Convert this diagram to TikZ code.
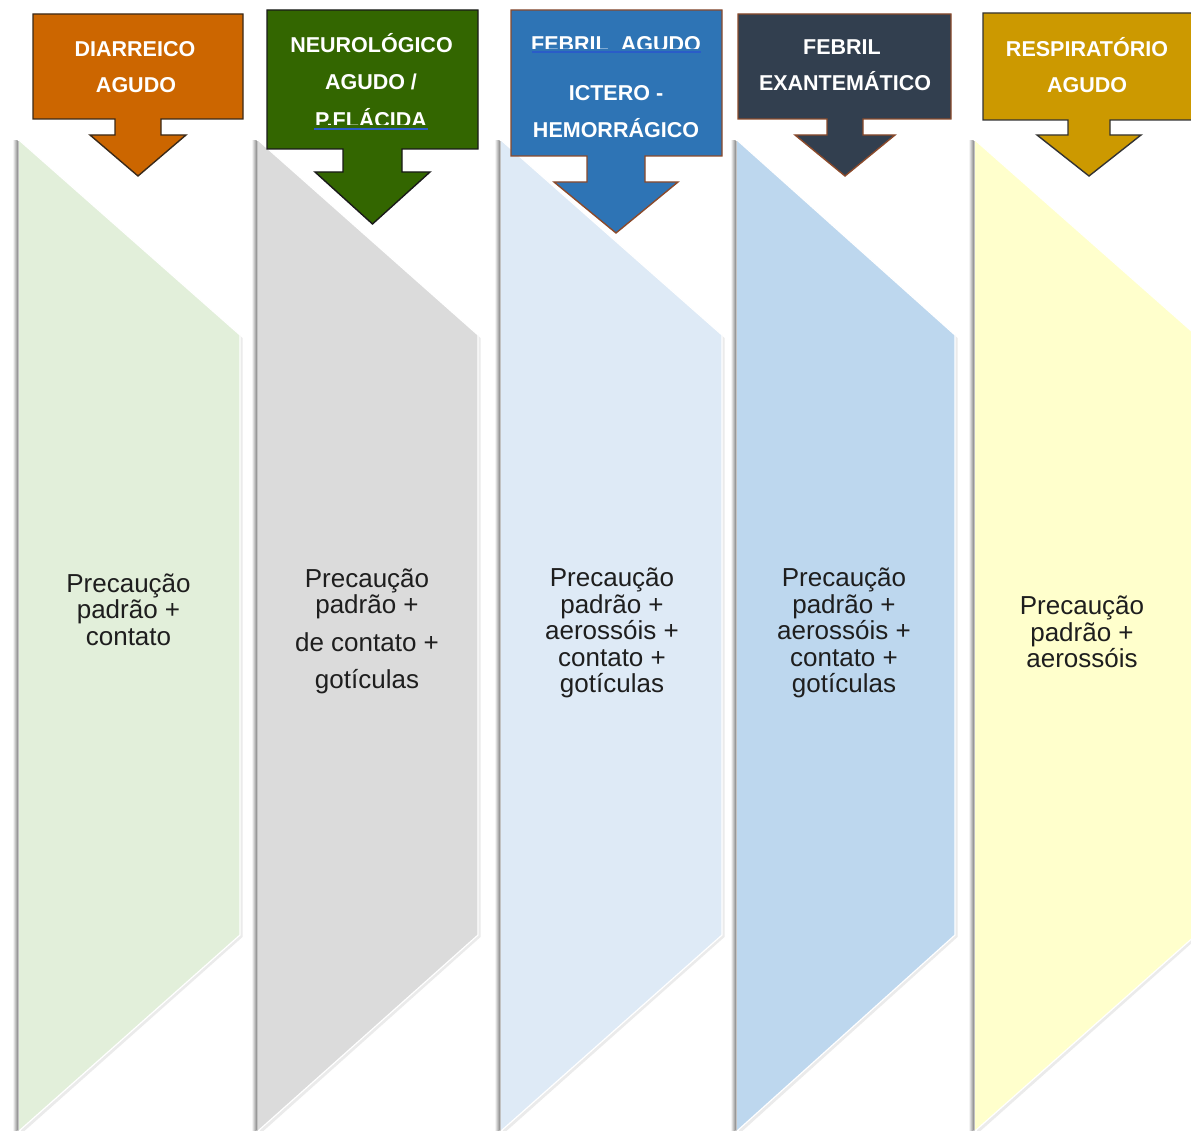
\documentclass[tikz,border=0pt]{standalone}
\usepackage{fontspec}
\setmainfont{Liberation Sans}
\definecolor{colA}{HTML}{E2EFDA}
\definecolor{colB}{HTML}{DBDBDB}
\definecolor{colC}{HTML}{DEEAF6}
\definecolor{colD}{HTML}{BDD7EE}
\definecolor{colE}{HTML}{FFFFCC}
\definecolor{hA}{HTML}{CC6600}
\definecolor{hB}{HTML}{336600}
\definecolor{hC}{HTML}{2E74B5}
\definecolor{hD}{HTML}{323F4F}
\definecolor{hE}{HTML}{CC9900}
\definecolor{bA}{HTML}{3A2A1A}
\definecolor{bB}{HTML}{1A1A1A}
\definecolor{bC}{HTML}{8B4A2B}
\definecolor{bD}{HTML}{8B4A2B}
\definecolor{bE}{HTML}{333333}
\definecolor{txt}{HTML}{1E1E1E}
\definecolor{ulink}{HTML}{2A5CC8}
\newcommand\mycol[3]{%
  \fill[black!8] ({#1+2},143) -- ({#1+#3+2.5},338) -- ({#1+#3+2.5},937) -- ({#1+2},1134) -- cycle;
  \shade[left color=white, right color=black!45] ({#1-6.5},141) rectangle ({#1-1.5},1131);
  \fill[black!24] ({#1-1.5},141) rectangle (#1,1131);
  \fill[#2] (#1,140) -- ({#1+#3},335) -- ({#1+#3},935) -- (#1,1131) -- cycle;
  \draw[white, line width=1.2pt] (#1,140) -- ({#1+#3},335) -- ({#1+#3},935) -- (#1,1131);
}
\begin{document}
\begin{tikzpicture}[x=1pt,y=-1pt,
  hdr/.style={line width=1.4pt, line join=miter},
  headtxt/.style={font=\bfseries\fontsize{21.5}{24}\selectfont, text=white, anchor=base, inner sep=0pt},
  bodytxt/.style={font=\fontsize{26}{27}\selectfont, text=txt, anchor=base, inner sep=0pt},
  uline/.style={ulink, line width=2pt}]
\useasboundingbox (0,0) rectangle (1191,1131);
\fill[white] (0,0) rectangle (1191,1131);
\clip (0,0) rectangle (1191,1131);

% columns
\mycol{19}{colA}{221}
\mycol{258}{colB}{220}
\mycol{501}{colC}{221}
\mycol{737}{colD}{218}
\mycol{975}{colE}{221}

% header callouts
\filldraw[hdr, fill=hA, draw=bA] (33,14) -- (243,14) -- (243,119) -- (161,119) -- (161,135) -- (186,135) -- (138,176) -- (90,135) -- (115,135) -- (115,119) -- (33,119) -- cycle;
\filldraw[hdr, fill=hB, draw=bB] (267,10) -- (478,10) -- (478,149) -- (402,149) -- (402,172) -- (430,172) -- (372.5,224) -- (315,172) -- (343,172) -- (343,149) -- (267,149) -- cycle;
\filldraw[hdr, fill=hC, draw=bC] (511,10) -- (722,10) -- (722,156) -- (645,156) -- (645,182) -- (678,182) -- (616,233) -- (554,182) -- (587,182) -- (587,156) -- (511,156) -- cycle;
\filldraw[hdr, fill=hD, draw=bD] (738,14) -- (951,14) -- (951,119) -- (863,119) -- (863,135) -- (895,135) -- (845,176) -- (795,135) -- (827,135) -- (827,119) -- (738,119) -- cycle;
\filldraw[hdr, fill=hE, draw=bE] (983,13) -- (1200,13) -- (1200,120) -- (1110,120) -- (1110,135) -- (1141,135) -- (1089,176) -- (1037,135) -- (1068,135) -- (1068,120) -- (983,120) -- cycle;

% header texts
\node[headtxt] (hA1) at (135,57) {DIARREICO};
\node[headtxt] (hA2) at (136,93) {AGUDO};
\node[headtxt] (hB1) at (371.5,53) {NEUROLÓGICO};
\node[headtxt] (hB2) at (371,89.5) {AGUDO /};
\begin{scope}
  \clip (267,100) rectangle (478,124.3);
  \node[headtxt] (hB3) at (371,127.3) {P.FLÁCIDA};
\end{scope}
\draw[uline] (314,129.5) -- (428,129.5);
\begin{scope}
  \clip (511,20) rectangle (722,48.3);
  \node[headtxt] (hC1) at (616,51.5) {FEBRIL\ \ AGUDO};
\end{scope}
\draw[uline] (532,52.3) -- (701,52.3);
\node[headtxt] (hC2) at (616,101) {ICTERO -};
\node[headtxt] (hC3) at (616,138) {HEMORRÁGICO};
\node[headtxt] (hD1) at (842,55) {FEBRIL};
\node[headtxt] (hD2) at (845,91) {EXANTEMÁTICO};
\node[headtxt] (hE1) at (1087,57) {RESPIRATÓRIO};
\node[headtxt] (hE2) at (1087,93) {AGUDO};

% body texts
\node[bodytxt] (tA1) at (128.5,592) {Precaução};
\node[bodytxt] (tA2) at (128.5,618.5) {padrão +};
\node[bodytxt] (tA3) at (128.5,645) {contato};

\node[bodytxt] (tB1) at (367,587) {Precaução};
\node[bodytxt] (tB2) at (367,613) {padrão +};
\node[bodytxt] (tB3) at (367,651) {de contato +};
\node[bodytxt] (tB4) at (367,688.5) {gotículas};

\node[bodytxt] (tC1) at (612,586.5) {Precaução};
\node[bodytxt] (tC2) at (612,613) {padrão +};
\node[bodytxt] (tC3) at (612,639.5) {aerossóis +};
\node[bodytxt] (tC4) at (612,666) {contato +};
\node[bodytxt] (tC5) at (612,692) {gotículas};

\node[bodytxt] (tD1) at (844,586.5) {Precaução};
\node[bodytxt] (tD2) at (844,613) {padrão +};
\node[bodytxt] (tD3) at (844,639.5) {aerossóis +};
\node[bodytxt] (tD4) at (844,666) {contato +};
\node[bodytxt] (tD5) at (844,692) {gotículas};

\node[bodytxt] (tE1) at (1082,614.5) {Precaução};
\node[bodytxt] (tE2) at (1082,641) {padrão +};
\node[bodytxt] (tE3) at (1082,667.5) {aerossóis};
\end{tikzpicture}
\end{document}
